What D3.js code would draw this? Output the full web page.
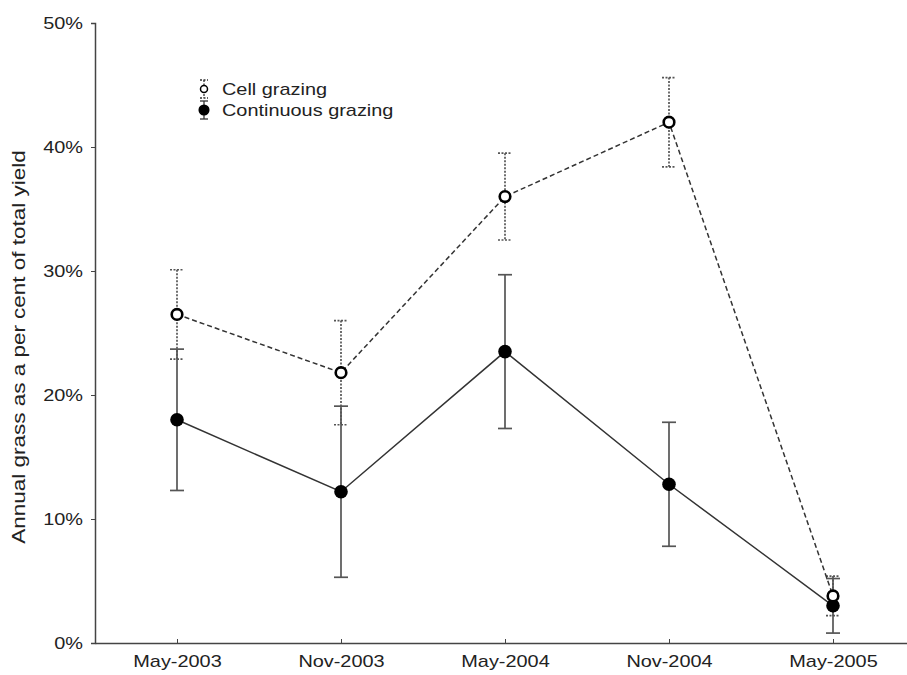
<!DOCTYPE html>
<html>
<head>
<meta charset="utf-8">
<script src="https://cdn.jsdelivr.net/npm/d3@7"></script>
<style>
  body { margin: 0; background: #fff; }
  text { font-family: "Liberation Sans", Arial, sans-serif; }
</style>
</head>
<body>
<svg id="chart" width="907" height="675"></svg>
<script>
// data (per cent)
const dates = ["May-2003", "Nov-2003", "May-2004", "Nov-2004", "May-2005"];
const cellMean = [26.5, 21.8, 36.0, 42.0, 3.8];
const cellErr = [3.6, 4.2, 3.5, 3.6, 1.6];
const contMean = [18.0, 12.2, 23.5, 12.8, 3.0];
const contErr = [5.7, 6.9, 6.2, 5.0, 2.2];
const yTicks = [0, 10, 20, 30, 40, 50];

let svg = d3.select("#chart");
let plotLeft = 95, plotTop = 23, plotBottom = 643, plotRight = 915;
let stretch = 1.17; // the figure's text is a bit wide

let x = d3.scalePoint().domain(dates).range([plotLeft, plotRight]).padding(0.5);
let y = d3.scaleLinear().domain([0, 50]).range([plotBottom, plotTop]);

let axisColor = "#444";

// y axis
let yAxis = svg.append("g")
    .attr("transform", "translate(" + plotLeft + ",0)")
    .call(d3.axisLeft(y).tickValues(yTicks).tickSize(4).tickFormat(d => d + "%"));
yAxis.select(".domain").attr("stroke", axisColor).attr("stroke-width", 1.5);
yAxis.selectAll(".tick line").attr("stroke", axisColor);
yAxis.selectAll(".tick text").attr("font-size", 17).attr("fill", "#222").attr("dy", "0.35em")
    .attr("x", -12 / stretch).attr("transform", "scale(" + stretch + ",1)");

// x axis (ticks point inward)
let xAxis = svg.append("g")
    .attr("transform", "translate(0," + plotBottom + ")")
    .call(d3.axisBottom(x).tickSize(-4).tickSizeOuter(0).tickPadding(0));
xAxis.select(".domain").attr("stroke", axisColor).attr("stroke-width", 1.5);
xAxis.selectAll(".tick line").attr("stroke", axisColor);
xAxis.selectAll(".tick text").attr("font-size", 17).attr("fill", "#222").attr("y", 12).attr("dy", "0.71em")
    .attr("transform", "scale(" + stretch + ",1)");

// y axis title
svg.append("text")
    .attr("transform", "translate(25," + 347 + ") rotate(-90) scale(1.25,1)")
    .attr("text-anchor", "middle")
    .attr("font-size", 18)
    .attr("fill", "#222")
    .text("Annual grass as a per cent of total yield");

function series(mean, err) {
    return dates.map((d, i) => ({ d: d, v: mean[i], e: err[i] }));
}
let cell = series(cellMean, cellErr);
let cont = series(contMean, contErr);

function errorBars(data, dash, color, cls) {
    let g = svg.append("g").attr("class", cls);
    g.selectAll(".v").data(data).enter().append("line")
        .attr("x1", d => x(d.d)).attr("x2", d => x(d.d))
        .attr("y1", d => y(d.v + d.e)).attr("y2", d => y(d.v - d.e))
        .attr("stroke", color).attr("stroke-width", 1.7).attr("stroke-dasharray", dash);
    [1, -1].forEach(s => {
        g.selectAll(".c" + (s > 0 ? "u" : "l")).data(data).enter().append("line")
            .attr("x1", d => x(d.d) - 7).attr("x2", d => x(d.d) + 7)
            .attr("y1", d => y(d.v + s * d.e)).attr("y2", d => y(d.v + s * d.e))
            .attr("stroke", color).attr("stroke-width", 1.7).attr("stroke-dasharray", dash);
    });
}

let line = d3.line().x(d => x(d.d)).y(d => y(d.v));

// continuous grazing
errorBars(cont, null, "#555", "contErr");
svg.append("path").datum(cont).attr("d", line)
    .attr("fill", "none").attr("stroke", "#333").attr("stroke-width", 1.5);

// cell grazing
errorBars(cell, "2,1.5", "#555", "cellErr");
svg.append("path").datum(cell).attr("d", line)
    .attr("fill", "none").attr("stroke", "#333").attr("stroke-width", 1.5)
    .attr("stroke-dasharray", "5,3");

svg.selectAll(".contPt").data(cont).enter().append("circle")
    .attr("cx", d => x(d.d)).attr("cy", d => y(d.v)).attr("r", 6.8)
    .attr("fill", "#000");
svg.selectAll(".cellPt").data(cell).enter().append("circle")
    .attr("cx", d => x(d.d)).attr("cy", d => y(d.v)).attr("r", 5.3)
    .attr("fill", "#fff").attr("stroke", "#000").attr("stroke-width", 2.6);

// legend
let legend = [
    { label: "Cell grazing", dash: "2,1.5", open: true },
    { label: "Continuous grazing", dash: null, open: false }
];
let lg = svg.append("g").attr("transform", "translate(204,89)");
legend.forEach((l, i) => {
    let row = lg.append("g").attr("transform", "translate(0," + i * 21 + ")");
    row.append("line").attr("x1", 0).attr("x2", 0).attr("y1", -9).attr("y2", 9)
        .attr("stroke", "#333").attr("stroke-width", 1.3).attr("stroke-dasharray", l.dash);
    [-9, 9].forEach(yy => row.append("line").attr("x1", -4).attr("x2", 4).attr("y1", yy).attr("y2", yy)
        .attr("stroke", "#333").attr("stroke-width", 1.3).attr("stroke-dasharray", l.dash));
    row.append("circle").attr("r", l.open ? 3.5 : 4.8)
        .attr("fill", l.open ? "#fff" : "#000").attr("stroke", "#000").attr("stroke-width", 1.5);
    row.append("text").attr("transform", "translate(18,0) scale(" + stretch + ",1)").attr("dy", "0.35em")
        .attr("font-size", 17).attr("fill", "#222").text(l.label);
});
</script>
</body>
</html>
